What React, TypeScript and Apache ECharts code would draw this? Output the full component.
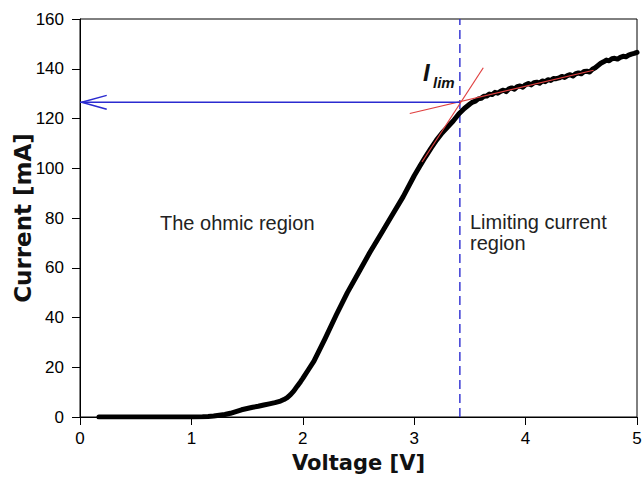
import React, { useEffect, useRef } from "react";
import * as echarts from "echarts";

// Measured current–voltage curve (V, mA)
const voltage = [
  0.17, 0.3, 0.5, 0.7, 0.9, 1.0, 1.1, 1.15, 1.2, 1.25, 1.3, 1.35, 1.4, 1.45, 1.5,
  1.55, 1.6, 1.65, 1.7, 1.75, 1.8, 1.83, 1.86, 1.89, 1.92, 1.95, 1.98, 2.0, 2.05,
  2.1, 2.15, 2.2, 2.3, 2.4, 2.5, 2.6, 2.7, 2.8, 2.9, 3.0, 3.05, 3.1, 3.15, 3.2,
  3.25, 3.3, 3.35, 3.4, 3.45, 3.5, 3.525, 3.55, 3.575, 3.6, 3.625, 3.65, 3.675,
  3.7, 3.725, 3.75, 3.775, 3.8, 3.825, 3.85, 3.875, 3.9, 3.925, 3.95, 3.975, 4.0,
  4.025, 4.05, 4.075, 4.1, 4.125, 4.15, 4.175, 4.2, 4.225, 4.25, 4.275, 4.3, 4.325,
  4.35, 4.375, 4.4, 4.425, 4.45, 4.475, 4.5, 4.525, 4.55, 4.575, 4.6, 4.625, 4.65,
  4.675, 4.7, 4.725, 4.75, 4.775, 4.8, 4.825, 4.85, 4.875, 4.9, 4.925, 4.95, 4.975,
  5.0,
];
const current = [
  0, 0, 0, 0, 0, 0, 0.1, 0.2, 0.4, 0.7, 1.0, 1.5, 2.2, 2.9, 3.4,
  3.9, 4.3, 4.8, 5.3, 5.8, 6.4, 7.0, 7.8, 9.0, 10.5, 12.4, 14.2, 15.5, 19.0,
  22.5, 27.0, 31.5, 41.0, 50.0, 58.0, 66.0, 73.5, 81.0, 88.5, 97.0, 100.8, 104.5, 108.0, 111.3,
  114.2, 116.6, 119.0, 121.8, 124.0, 125.8, 126.6, 127.0, 127.9, 128.1, 128.9, 129.0, 129.8,
  129.6, 130.5, 130.2, 130.9, 131.4, 130.8, 131.9, 132.3, 131.8, 132.8, 133.1, 132.6, 133.6,
  134.1, 133.5, 134.4, 134.6, 134.2, 135.1, 134.8, 135.6, 135.3, 136.1, 136.0, 136.3, 136.9,
  136.5, 137.2, 137.6, 137.1, 138.0, 138.3, 138.0, 138.9, 139.0, 138.7, 139.8, 140.4, 141.3,
  142.2, 142.8, 143.5, 143.2, 144.0, 144.2, 143.9, 144.6, 145.0, 144.8, 145.5, 145.9, 146.2,
  146.6,
];

// Tangent lines used to locate the limiting current
const ohmicTangentV = [3.07, 3.62];
const ohmicTangentI = [102.5, 140.4];
const plateauTangentV = [2.96, 4.61];
const plateauTangentI = [122.0, 139.4];

// Limiting current point
const limitV = 3.41;
const limitI = 126.5;

// Arrow head barbs (pointing at the current axis)
const arrowHeadV = [0.24, 0.015, 0.24];
const arrowHeadI = [129.3, 126.5, 123.7];

const xTicks = { min: 0, max: 5, interval: 1 };
const yTicks = { min: 0, max: 160, interval: 20 };

const zip = (a: number[], b: number[]) => a.map((v, i) => [v, b[i]]);

const ARIAL = "'Liberation Sans', Arial, sans-serif";
const TITLE_FONT = "'DejaVu Sans', Verdana, sans-serif";

export default function App() {
  const ref = useRef<HTMLDivElement>(null);

  useEffect(() => {
    if (!ref.current) return;
    const chart = echarts.init(ref.current, undefined, { renderer: "svg" });
    const blue = "#2b2bd0";
    const red = "#e04040";
    chart.setOption({
      animation: false,
      backgroundColor: "#ffffff",
      grid: {
        left: 80,
        right: 5,
        top: 19,
        bottom: 66,
        containLabel: false,
        outerBoundsMode: "none",
        show: true,
        borderColor: "#000",
        borderWidth: 1,
        backgroundColor: "transparent",
      },
      xAxis: {
        type: "value",
        ...xTicks,
        name: "Voltage [V]",
        nameLocation: "middle",
        nameGap: 35,
        nameMoveOverlap: false,
        nameTextStyle: { fontFamily: TITLE_FONT, fontWeight: "bold", fontSize: 21, color: "#111" },
        axisLine: { show: true, lineStyle: { color: "#000", width: 1 } },
        axisTick: { show: true, length: 8, lineStyle: { color: "#000" } },
        axisLabel: { fontFamily: ARIAL, fontSize: 17, color: "#000", margin: 13 },
        splitLine: { show: false },
      },
      yAxis: {
        type: "value",
        ...yTicks,
        name: "Current [mA]",
        nameLocation: "middle",
        nameGap: 46,
        nameMoveOverlap: false,
        nameTextStyle: { fontFamily: TITLE_FONT, fontWeight: "bold", fontSize: 23, color: "#111" },
        axisLine: { show: true, lineStyle: { color: "#000", width: 1 } },
        axisTick: { show: true, length: 8, lineStyle: { color: "#000" } },
        axisLabel: { fontFamily: ARIAL, fontSize: 17, color: "#000", margin: 16 },
        splitLine: { show: false },
      },
      series: [
        {
          name: "limit-voltage",
          type: "line",
          data: [[limitV, yTicks.min], [limitV, yTicks.max]],
          showSymbol: false,
          lineStyle: { color: blue, width: 1.4, type: [9, 5] },
          z: 1,
        },
        {
          name: "measured",
          type: "line",
          data: zip(voltage, current),
          showSymbol: false,
          smooth: false,
          lineStyle: { color: "#000", width: 5, cap: "round", join: "round" },
          z: 2,
        },
        {
          name: "ohmic-tangent",
          type: "line",
          data: zip(ohmicTangentV, ohmicTangentI),
          showSymbol: false,
          lineStyle: { color: red, width: 1.2 },
          z: 3,
        },
        {
          name: "plateau-tangent",
          type: "line",
          data: zip(plateauTangentV, plateauTangentI),
          showSymbol: false,
          lineStyle: { color: red, width: 1.2 },
          z: 3,
        },
        {
          name: "limit-current",
          type: "line",
          data: [[limitV, limitI], [xTicks.min, limitI]],
          showSymbol: false,
          lineStyle: { color: blue, width: 1.5 },
          z: 4,
        },
        {
          name: "arrow-head",
          type: "line",
          data: zip(arrowHeadV, arrowHeadI),
          showSymbol: false,
          lineStyle: { color: blue, width: 1.5 },
          z: 4,
        },
      ],
      graphic: [
        {
          type: "text",
          left: 160,
          top: 213,
          style: { text: "The ohmic region", fontFamily: ARIAL, fontSize: 20, fill: "#222" },
        },
        {
          type: "text",
          left: 470,
          top: 211,
          style: {
            text: "Limiting current\nregion",
            fontFamily: ARIAL,
            fontSize: 20,
            lineHeight: 21,
            fill: "#222",
          },
        },
        {
          type: "text",
          left: 423,
          top: 60,
          style: {
            text: "I",
            fontFamily: ARIAL,
            fontSize: 24,
            fontWeight: "bold",
            fontStyle: "italic",
            fill: "#111",
          },
        },
        {
          type: "text",
          left: 433,
          top: 75,
          style: {
            text: "lim",
            fontFamily: ARIAL,
            fontSize: 15,
            fontWeight: "bold",
            fontStyle: "italic",
            fill: "#111",
          },
        },
      ],
    });
    return () => chart.dispose();
  }, []);

  return (
    <div
      ref={ref}
      style={{ position: "absolute", left: 0, top: 0, width: 642, height: 483, background: "#fff" }}
    />
  );
}
